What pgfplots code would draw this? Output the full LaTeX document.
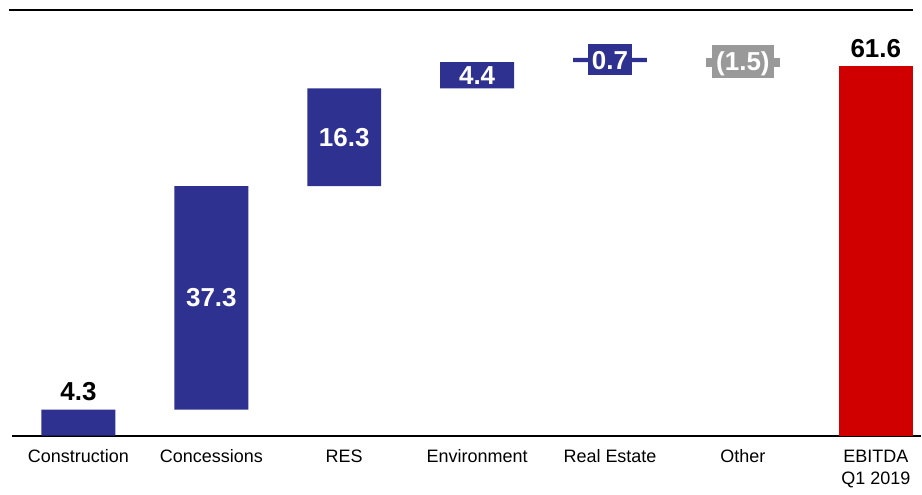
\documentclass[border=0pt]{standalone}
\usepackage{pgfplots}
\pgfplotsset{compat=1.18}
\usepackage{fontspec}
\setmainfont{Liberation Sans}
\definecolor{fblue}{RGB}{46,49,143}
\definecolor{fred}{RGB}{208,0,0}
\definecolor{fgrey}{RGB}{153,153,153}
\pgfplotsset{
  base/.style={scale only axis, width=455pt, height=213pt,
    xmin=-0.5, xmax=6.34, ymin=0, ymax=71, clip=false},
}
\begin{document}
\begin{tikzpicture}
\begin{axis}[
  base,
  ybar stacked, bar width=37pt,
  axis x line*=bottom, axis y line=none,
  x axis line style={-, line width=1pt},
  xtick=data,
  xticklabels={Construction, Concessions, RES, Environment, Real Estate, Other, {EBITDA\\Q1 2019}},
  xticklabel style={font=\fontsize{9}{11}\selectfont, align=center, yshift=-2.5pt},
  typeset ticklabels with strut,
  ytick=\empty,
  major tick length=0pt,
]
\addplot[fill=none, draw=none] coordinates {(0,0) (1,4.3) (2,41.6) (3,57.9) (4,62.3) (5,61.5) (6,0)};
\addplot[fill=fblue, draw=none] coordinates {(0,4.3) (1,37.3) (2,16.3) (3,4.4) (4,0.7) (5,0) (6,0)};
\addplot[fill=fgrey, draw=none] coordinates {(0,0) (1,0) (2,0) (3,0) (4,0) (5,1.5) (6,0)};
\addplot[fill=fred, draw=none] coordinates {(0,0) (1,0) (2,0) (3,0) (4,0) (5,0) (6,61.6)};
\draw[line width=1.4pt] (axis cs:-0.526,71) -- (axis cs:6.28,71);
\end{axis}
\begin{axis}[base, hide axis]
% labels above bars
\addplot[draw=none, mark=none, nodes near coords, point meta=explicit symbolic,
  nodes near coords style={font=\fontsize{13}{15}\bfseries, text=black, anchor=south, yshift=0.7pt}]
  table[meta=lab] {
x y lab
0 4.3 4.3
6 61.6 61.6
};
% labels inside bars
\addplot[draw=none, mark=none, nodes near coords, point meta=explicit symbolic,
  nodes near coords style={font=\fontsize{13}{15}\bfseries, text=white, anchor=center}]
  table[meta=lab] {
x y lab
1 22.95 37.3
2 49.75 16.3
3 60.1 4.4
};
% boxed labels
\addplot[draw=none, mark=none, nodes near coords, point meta=explicit symbolic,
  nodes near coords style={font=\fontsize{13}{15}\bfseries, text=white, anchor=center, fill=fblue,
    inner xsep=2pt, inner ysep=0pt, minimum height=15.5pt, text height=9.3pt, text depth=0pt}]
  table[meta=lab] {
x y lab
4 62.67 0.7
};
\addplot[draw=none, mark=none, nodes near coords, point meta=explicit symbolic,
  nodes near coords style={font=\fontsize{13}{15}\bfseries, text=white, anchor=center, fill=fgrey,
    inner xsep=2.1pt, inner ysep=0pt, minimum height=16.5pt, text height=9.3pt, text depth=0pt}]
  table[meta=lab] {
x y lab
5 62.4 (1.5)
};
\end{axis}
\path (current axis.south west) ++(-6pt,-25pt);
\path (current axis.north east) ++(0,5pt);
\end{tikzpicture}
\end{document}
